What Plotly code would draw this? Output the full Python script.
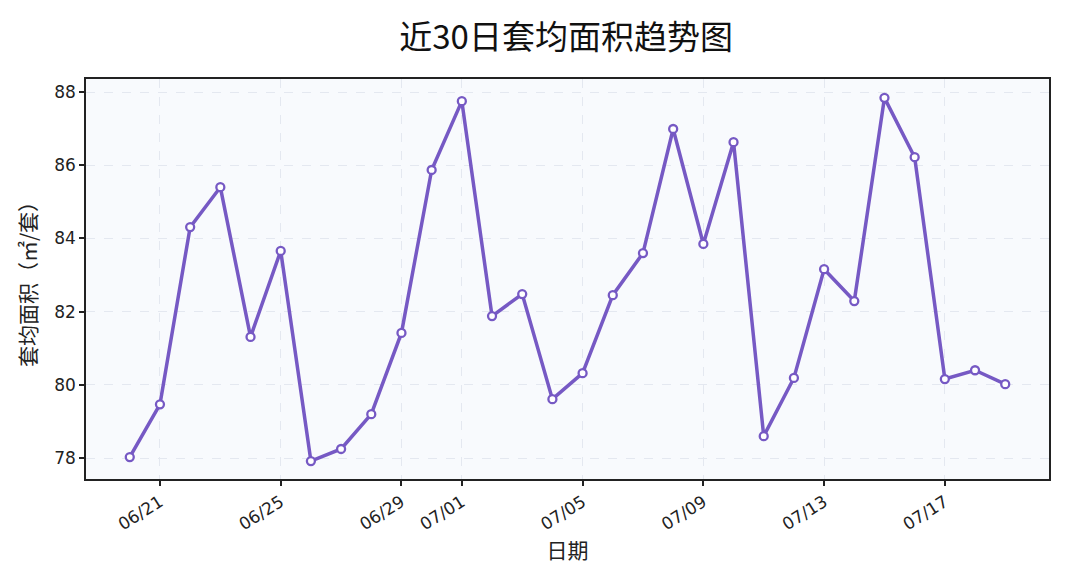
import plotly.graph_objects as go
import pandas as pd

dates = pd.date_range("2024-06-20", "2024-07-19", freq="D")
values = [78.03, 79.47, 84.31, 85.40, 81.31, 83.66, 77.92, 78.25, 79.20, 81.42,
          85.87, 87.75, 81.88, 82.48, 79.61, 80.32, 82.45, 83.60, 86.99, 83.85,
          86.63, 78.60, 80.19, 83.16, 82.29, 87.84, 86.22, 80.16, 80.40, 80.02]
tick_dates = ["2024-06-21", "2024-06-25", "2024-06-29", "2024-07-01",
              "2024-07-05", "2024-07-09", "2024-07-13", "2024-07-17"]
tick_labels = ["06/21", "06/25", "06/29", "07/01", "07/05", "07/09", "07/13", "07/17"]
y_ticks = [78, 80, 82, 84, 86, 88]

font_family = "Noto Sans CJK SC, Liberation Sans, sans-serif"
tick_family = "DejaVu Sans, Noto Sans CJK SC, sans-serif"
color = "#7659C4"

fig = go.Figure()
fig.add_trace(go.Scatter(
    x=dates, y=values, mode="lines+markers",
    line=dict(color=color, width=3.5),
    marker=dict(size=8, color="white", line=dict(color=color, width=2.3)),
    showlegend=False,
))

x0 = dates[0] - pd.Timedelta(hours=1.45 * 24)
x1 = dates[-1] + pd.Timedelta(hours=1.45 * 24)

fig.update_layout(
    width=1057, height=580,
    margin=dict(l=78, r=16, t=71, b=109),
    paper_bgcolor="white",
    plot_bgcolor="#F8FAFD",
    font=dict(family=font_family, size=17, color="#222"),
    title=dict(text="近30日套均面积趋势图", x=0.528, xanchor="center", y=0.95, yanchor="middle",
               font=dict(size=33, color="#111", family=font_family)),
    xaxis=dict(
        type="date", range=[x0, x1],
        tickvals=tick_dates, ticktext=tick_labels, tickangle=-32,
        showgrid=True, gridcolor="#E4E8F0", griddash="dash", gridwidth=1,
        showline=True, linecolor="#222", linewidth=1.5, mirror=True,
        ticks="outside", ticklen=5, tickcolor="#222", tickwidth=1.5,
        tickfont=dict(size=17, color="#222", family=tick_family),
        title=dict(text="日期", font=dict(size=21, color="#222"), standoff=4),
        zeroline=False,
    ),
    yaxis=dict(
        range=[77.43, 88.355],
        tickvals=y_ticks,
        showgrid=True, gridcolor="#E4E8F0", griddash="dash", gridwidth=1,
        showline=True, linecolor="#222", linewidth=1.5, mirror=True,
        ticks="outside", ticklen=5, tickcolor="#222", tickwidth=1.5,
        tickfont=dict(size=17, color="#222", family=tick_family),
        title=dict(text="套均面积（㎡/套）", font=dict(size=21, color="#222"), standoff=12),
        zeroline=False,
    ),
)

fig.write_html("out.html")
